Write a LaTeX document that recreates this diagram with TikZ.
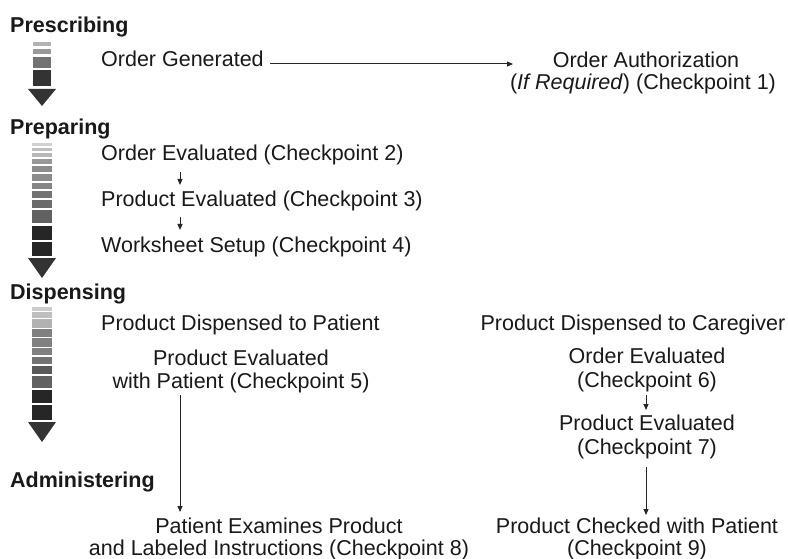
\documentclass[tikz,border=0pt]{standalone}
\usepackage{fontspec}
\setmainfont{Liberation Sans}
\usetikzlibrary{arrows.meta}
\begin{document}
\begin{tikzpicture}[x=1pt,y=-1pt,
  txt/.style={inner sep=0pt, anchor=base west, font=\fontsize{21.5}{24}\selectfont, text=black!90},
  ctxt/.style={txt, anchor=base},
  hd/.style={txt, font=\fontsize{21.5}{24}\selectfont\bfseries},
  arr/.style={draw=black!85, line width=1pt, -{Triangle[length=6pt,width=5pt]}},
  bighead/.style={fill=black!80}]
\useasboundingbox (0,0) rectangle (788,559);
\fill[white] (0,0) rectangle (788,559);

% phase headings
\node[hd] (h1) at (10,33) {Prescribing};
\node[hd] (h2) at (10,135) {Preparing};
\node[hd] (h3) at (10,299) {Dispensing};
\node[hd] (h4) at (10,487) {Administering};

% phase arrows
\foreach \a/\b/\g in {42/46/30, 49/54/40, 57/68/55, 70/86/80}
  \fill[black!\g] (33,\a) rectangle (51,\b);
\fill[bighead] (28,89) -- (56,89) -- (42,106) -- cycle;

\foreach \a/\b/\g in {143/146/18, 148/151/25, 153/157/28, 159/164/40, 166/172/45, 174/181/45, 183/189/48, 191/198/55, 200/208/58, 210/223/62, 226/240/85, 242/256/85}
  \fill[black!\g] (32,\a) rectangle (52,\b);
\fill[bighead] (28,258) -- (56,258) -- (42,278) -- cycle;

\foreach \a/\b/\g in {307/311/20, 312/318/25, 319/328/30, 329/337/50, 338/347/50, 348/355/50, 357/364/55, 366/374/65, 376/388/62, 390/403/85, 405/420/85}
  \fill[black!\g] (32,\a) rectangle (52,\b);
\fill[bighead] (28,422) -- (56,422) -- (42,442) -- cycle;

% Prescribing
\node[txt] (og) at (101,67) {Order Generated};
\node[ctxt] (oa1) at (646,68) {Order Authorization};
\node[ctxt] (oa2) at (643,90) {(\textit{If Required}) (Checkpoint 1)};
\coordinate (ogE) at (270,64);
\coordinate (oaW) at (513,64);
\draw[arr] (ogE) -- (oaW);

% Preparing
\node[txt] (oe2) at (101,161) {Order Evaluated (Checkpoint 2)};
\node[txt] (pe3) at (101,207) {Product Evaluated (Checkpoint 3)};
\node[txt] (ws4) at (101,253) {Worksheet Setup (Checkpoint 4)};
\coordinate (a1s) at (180,172); \coordinate (a1e) at (180,185);
\coordinate (a2s) at (180,217); \coordinate (a2e) at (180,230);
\draw[arr] (a1s) -- (a1e);
\draw[arr] (a2s) -- (a2e);

% Dispensing, patient
\node[txt] (pdp) at (101,330) {Product Dispensed to Patient};
\node[ctxt] (pe5a) at (241,365) {Product Evaluated};
\node[ctxt] (pe5b) at (241,388) {with Patient (Checkpoint 5)};
\node[ctxt] (pat8a) at (279,533) {Patient Examines Product};
\node[ctxt] (pat8b) at (279,555) {and Labeled Instructions (Checkpoint 8)};
\coordinate (a5s) at (180,395); \coordinate (a5e) at (180,512);
\draw[arr] (a5s) -- (a5e);

% Dispensing, caregiver
\node[ctxt] (pdc) at (633,330) {Product Dispensed to Caregiver};
\node[ctxt] (oe6a) at (647,363) {Order Evaluated};
\node[ctxt] (oe6b) at (647,387) {(Checkpoint 6)};
\node[ctxt] (pe7a) at (647,430) {Product Evaluated};
\node[ctxt] (pe7b) at (647,454) {(Checkpoint 7)};
\node[ctxt] (pc9a) at (637,533) {Product Checked with Patient};
\node[ctxt] (pc9b) at (637,555) {(Checkpoint 9)};
\coordinate (a6s) at (646,395); \coordinate (a6e) at (646,410);
\coordinate (a7s) at (646,467); \coordinate (a7e) at (646,515);
\draw[arr] (a6s) -- (a6e);
\draw[arr] (a7s) -- (a7e);
\end{tikzpicture}
\end{document}
